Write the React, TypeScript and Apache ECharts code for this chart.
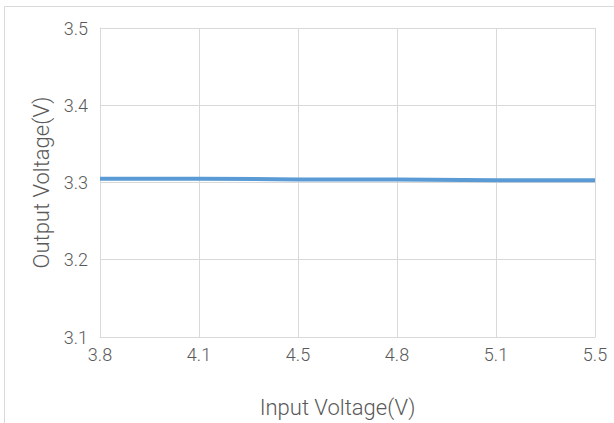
import React, { useEffect, useRef } from "react";
import * as echarts from "echarts";

const categories = ["3.8", "4.1", "4.5", "4.8", "5.1", "5.5"];
const outputVoltage = [3.305, 3.305, 3.304, 3.304, 3.303, 3.303];
const yMin = 3.1;
const yMax = 3.5;
const yInterval = 0.1;

export default function App() {
  const ref = useRef<HTMLDivElement>(null);
  useEffect(() => {
    if (!ref.current) return;
    const chart = echarts.init(ref.current, undefined, { renderer: "svg" });
    const font = "Roboto, 'Noto Sans', sans-serif";
    chart.setOption({
      animation: false,
      backgroundColor: "#ffffff",
      textStyle: { fontFamily: font },
      graphic: [
        {
          type: "rect",
          shape: { x: 4.5, y: 6.5, width: 700, height: 500 },
          style: { fill: "none", stroke: "#d9d9d9", lineWidth: 1 },
          silent: true,
        },
      ],
      grid: { left: 100, right: 19, top: 28, bottom: 86, containLabel: false },
      xAxis: {
        type: "category",
        data: categories,
        boundaryGap: false,
        name: "Input Voltage(V)",
        nameLocation: "middle",
        nameGap: 59,
        nameTextStyle: {
          fontSize: 22,
          fontWeight: 300,
          color: "#595959",
          fontFamily: font,
          padding: [0, 20, 0, 0],
        },
        axisLine: { show: true, lineStyle: { color: "#d9d9d9", width: 1 } },
        axisTick: { show: false },
        axisLabel: { fontSize: 18, fontWeight: 300, color: "#595959", margin: 8, fontFamily: font },
        splitLine: { show: true, lineStyle: { color: "#d9d9d9", width: 1 } },
      },
      yAxis: {
        type: "value",
        min: yMin,
        max: yMax,
        interval: yInterval,
        name: "Output Voltage(V)",
        nameLocation: "middle",
        nameGap: 48,
        nameTextStyle: { fontSize: 22, fontWeight: 300, color: "#595959", fontFamily: font },
        axisLine: { show: true, lineStyle: { color: "#d9d9d9", width: 1 } },
        axisTick: { show: false },
        axisLabel: {
          fontSize: 18,
          fontWeight: 300,
          color: "#595959",
          margin: 12,
          fontFamily: font,
          formatter: (v: number) => v.toFixed(1),
        },
        splitLine: { show: true, lineStyle: { color: "#d9d9d9", width: 1 } },
      },
      series: [
        {
          type: "line",
          data: outputVoltage,
          symbol: "none",
          lineStyle: { color: "#5b9bd5", width: 4 },
          itemStyle: { color: "#5b9bd5" },
        },
      ],
    });
    return () => chart.dispose();
  }, []);
  return (
    <div
      ref={ref}
      style={{ position: "fixed", left: 0, top: 0, width: 614, height: 423 }}
    />
  );
}
